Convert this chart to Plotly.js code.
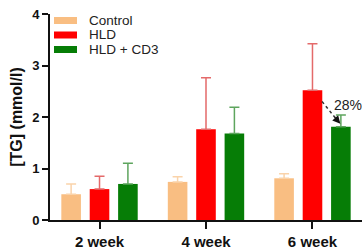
<!DOCTYPE html>
<html>
<head>
<meta charset="utf-8">
<script src="https://cdn.plot.ly/plotly-3.0.1.min.js"></script>
<style>html,body{margin:0;padding:0;background:#fff;}#chart{width:362px;height:250px;}</style>
</head>
<body>
<div id="chart"></div>
<script>
const categories = ["2 week", "4 week", "6 week"];
const seriesNames = ["Control", "HLD", "HLD + CD3"];
const controlMean = [0.50, 0.74, 0.81];
const controlErr  = [0.20, 0.10, 0.09];
const hldMean     = [0.60, 1.76, 2.52];
const hldErr      = [0.25, 1.00, 0.90];
const cd3Mean     = [0.70, 1.68, 1.81];
const cd3Err      = [0.40, 0.51, 0.23];
const reductionLabel = "28%";
const yTickVals = [0, 1, 2, 3, 4];

const barColors = ["#F9BE82", "#FF0000", "#067D06"];
const errColors = ["#FAD3AA", "#E46A6A", "#5EA55E"];
const FONT = "Liberation Sans, Arial, sans-serif";

const means = [controlMean, hldMean, cd3Mean];
const errs = [controlErr, hldErr, cd3Err];

const traces = seriesNames.map((name, i) => ({
  type: "bar",
  name: name,
  x: categories,
  y: means[i],
  marker: {color: barColors[i], line: {width: 0}},
  error_y: {type: "data", symmetric: false, array: errs[i], arrayminus: errs[i].map(() => 0),
            color: errColors[i], thickness: 1.5, width: 5},
  showlegend: false
}));

// plot geometry (pixels) for paper-coordinate legend placement
const W = 362, H = 250, M = {l: 50, r: 0, t: 14, b: 30};
const pw = W - M.l - M.r, ph = H - M.t - M.b;
const px2x = p => (p - M.l) / pw;
const py2y = p => (H - M.b - p) / ph;

const shapes = [];
const annotations = [];
seriesNames.forEach((name, i) => {
  const cy = 20.5 + i * 14.5;
  shapes.push({type: "rect", xref: "paper", yref: "paper",
    x0: px2x(54), x1: px2x(77), y0: py2y(cy + 3.5), y1: py2y(cy - 3.5),
    fillcolor: barColors[i], line: {width: 0}});
  annotations.push({xref: "paper", yref: "paper", x: px2x(87), y: py2y(cy),
    xanchor: "left", yanchor: "middle", text: name, showarrow: false,
    font: {family: FONT, size: 13.5, color: "#222"}});
});

// reduction arrow between HLD and HLD+CD3 at last timepoint
const last = categories.length - 1;
const slot = 0.8 / 3;
const halfBar = 0.09;
const x0 = last + halfBar, y0 = hldMean[last] - 0.22;
const x1 = last + slot - 0.005, y1 = cd3Mean[last] + 0.06;
shapes.push({type: "line", xref: "x", yref: "y", x0: x0, y0: y0, x1: x1 - 0.05, y1: y1 + 0.12,
  line: {color: "#333", width: 1.5, dash: "dot"}});
annotations.push({xref: "x", yref: "y", x: x1, y: y1, ax: -7, ay: -8, text: "",
  showarrow: true, arrowhead: 2, arrowsize: 1.2, arrowwidth: 1.3, arrowcolor: "#111"});
annotations.push({xref: "x", yref: "y", x: last + 0.33, y: 2.23, text: reductionLabel,
  showarrow: false, font: {family: FONT, size: 14, color: "#222"}});

const layout = {
  width: W, height: H,
  margin: M,
  paper_bgcolor: "#fff", plot_bgcolor: "#fff",
  barmode: "group", bargap: 0.2, bargroupgap: 0.31,
  showlegend: false,
  font: {family: FONT, color: "#111"},
  xaxis: {
    type: "category", range: [-0.465, 2.465],
    showline: true, linecolor: "#111", linewidth: 2,
    ticks: "outside", ticklen: 7, tickwidth: 2, tickcolor: "#111",
    tickfont: {family: FONT, size: 15, color: "#111", weight: "bold"},
    showgrid: false, zeroline: false, fixedrange: true
  },
  yaxis: {
    range: [0, 4], tickvals: yTickVals,
    showline: true, linecolor: "#111", linewidth: 2,
    ticks: "outside", ticklen: 6, tickwidth: 2, tickcolor: "#111",
    tickfont: {family: FONT, size: 13, color: "#111", weight: "bold"},
    showgrid: false, zeroline: false,
    title: {text: "[TG] (mmol/l)", font: {family: FONT, size: 16, color: "#111", weight: "bold"}, standoff: 6}
  },
  shapes: shapes,
  annotations: annotations
};

Plotly.newPlot("chart", traces, layout, {displayModeBar: false, staticPlot: true});
</script>
</body>
</html>
